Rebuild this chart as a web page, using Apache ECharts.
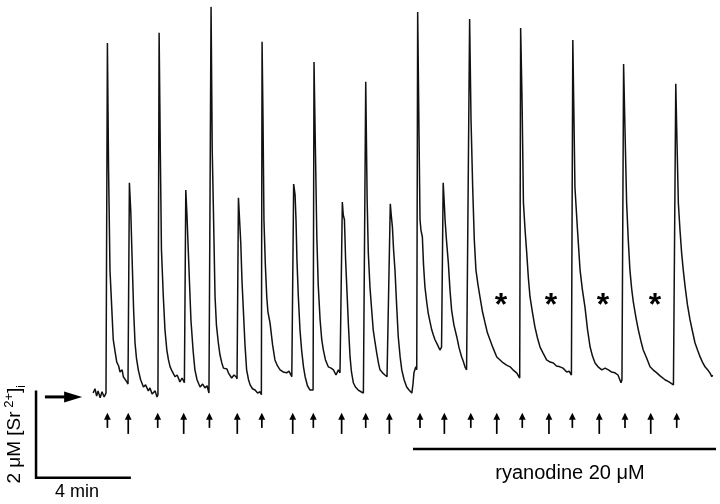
<!DOCTYPE html>
<html>
<head>
<meta charset="utf-8">
<script src="https://cdn.jsdelivr.net/npm/echarts@6/dist/echarts.min.js"></script>
<style>
  html, body { margin: 0; background: #fff; }
  #chart { width: 720px; height: 504px; }
</style>
</head>
<body>
<div id="chart"></div>
<script>
// [time (min), [Sr2+]i (µM above resting level)]
const controlTrace = [
  [2.44,0.09],[2.52,0.19],[2.59,0.02],[2.65,0.14],[2.74,-0.02],[2.82,0.12],[2.91,0],[2.99,0.09],[3.02,0.05],
  [3.05,8.23],[3.10,5.28],[3.16,2.95],[3.23,2.14],[3.30,1.33],[3.38,1.05],[3.45,0.81],[3.53,0.72],[3.59,0.58],[3.68,0.63],[3.73,0.47],[3.80,0.51],[3.88,0.35],[3.93,0.30],
  [3.96,0.30],[3.99,4.98],[4.05,4.30],[4.12,2.95],[4.17,2.02],[4.23,1.26],[4.29,0.91],[4.37,0.63],[4.47,0.40],[4.59,0.23],[4.68,0.28],[4.80,0.14],[4.87,0.21],[4.96,0.07],[5.09,0.14],[5.17,0],[5.21,0.05],
  [5.26,8.47],[5.31,5.74],[5.36,3.42],[5.44,2.33],[5.51,1.56],[5.59,1.09],[5.66,0.86],[5.73,0.70],[5.83,0.58],[5.94,0.47],[6.03,0.51],[6.15,0.35],[6.24,0.44],[6.30,0.40],[6.34,0.33],
  [6.40,4.81],[6.45,4.23],[6.51,3.35],[6.57,2.49],[6.62,1.79],[6.71,1.09],[6.79,0.63],[6.88,0.40],[7.01,0.23],[7.12,0.30],[7.22,0.21],[7.31,0.26],[7.39,0.09],[7.46,0.12],
  [7.48,9.07],[7.53,5.74],[7.58,4.35],[7.65,2.33],[7.71,1.67],[7.79,1.26],[7.86,0.98],[7.94,0.79],[8.01,0.67],[8.08,0.63],[8.16,0.65],[8.22,0.56],[8.29,0.58],[8.36,0.44],[8.46,0.51],[8.55,0.47],[8.59,0.42],
  [8.65,4.63],[8.75,3.58],[8.80,2.72],[8.86,2.02],[8.93,1.21],[9.00,0.63],[9.08,0.40],[9.15,0.28],[9.25,0.19],[9.36,0.16],[9.47,0.09],[9.57,0.12],[9.63,0.05],
  [9.66,8.26],[9.70,6.44],[9.74,4.12],[9.80,3.07],[9.86,2.33],[9.91,1.98],[10.00,1.72],[10.11,1.21],[10.21,0.86],[10.32,0.72],[10.43,0.63],[10.56,0.58],[10.71,0.56],[10.81,0.60],[10.93,0.47],[10.96,0.44],
  [11.01,4.95],[11.07,4.70],[11.11,4.12],[11.15,3.19],[11.21,2.33],[11.28,1.56],[11.35,1.09],[11.43,0.70],[11.50,0.47],[11.60,0.26],[11.71,0.16],[11.78,0.12],[11.84,0.16],
  [11.88,7.79],[11.94,5.74],[12.00,3.72],[12.06,2.60],[12.14,1.79],[12.21,1.33],[12.28,1.09],[12.37,0.86],[12.49,0.70],[12.61,0.67],[12.71,0.63],[12.82,0.51],[12.92,0.63],[12.99,0.56],[13.05,0.58],
  [13.09,4.53],[13.13,4.23],[13.18,4.12],[13.23,3.19],[13.28,2.56],[13.35,1.67],[13.42,0.93],[13.48,0.58],[13.56,0.33],[13.65,0.23],[13.77,0.16],[13.89,0.12],[13.99,0.09],[14.04,0.07],
  [14.09,7.33],[14.15,4.58],[14.20,3.35],[14.27,2.56],[14.35,1.98],[14.41,1.56],[14.49,1.26],[14.56,1.02],[14.64,0.77],[14.70,0.63],[14.81,0.56],[14.91,0.51],[15.00,0.47],[15.07,0.44],
  [15.14,4.49],[15.18,4.23],[15.23,3.95],[15.28,3.42],[15.34,2.95],[15.41,2.14],[15.48,1.40],[15.56,0.93],[15.63,0.63],[15.73,0.40],[15.84,0.23],[15.94,0.16],[16.06,0.09],[16.11,0.30],[16.15,0.56],[16.23,0.70],[16.27,0.63]
];

const ryanodineTrace = [
  [16.31,8.95],[16.36,6.44],[16.41,4.12],[16.45,3.88],[16.51,3.72],[16.56,3.07],[16.62,2.56],[16.70,2.19],[16.76,1.95],[16.84,1.74],[16.91,1.56],[16.98,1.44],[17.05,1.33],[17.16,1.21],[17.26,1.09],[17.33,1.16],
  [17.40,4.98],[17.44,4.58],[17.48,4.12],[17.54,3.65],[17.62,3.12],[17.69,2.49],[17.76,2.02],[17.86,1.67],[17.98,1.40],[18.08,1.14],[18.19,0.93],[18.27,0.81],[18.33,0.70],[18.40,0.63],[18.46,0.67],
  [18.53,8.79],[18.59,6.44],[18.66,4.88],[18.73,3.65],[18.80,2.95],[18.89,2.60],[18.97,2.33],[19.08,1.98],[19.19,1.72],[19.29,1.49],[19.40,1.33],[19.53,1.14],[19.69,0.93],[19.83,0.86],[19.97,0.79],[20.11,0.74],[20.26,0.70],[20.38,0.63],[20.54,0.56],[20.60,0.58],[20.67,0.44],
  [20.71,8.58],[20.77,6.91],[20.83,4.51],[20.90,3.88],[20.97,3.35],[21.04,2.77],[21.11,2.33],[21.22,1.95],[21.32,1.63],[21.43,1.37],[21.54,1.16],[21.67,1.02],[21.82,0.86],[21.97,0.81],[22.11,0.79],[22.24,0.72],[22.39,0.70],[22.52,0.67],[22.68,0.58],[22.78,0.60],[22.88,0.51],
  [22.94,8.30],[22.99,6.44],[23.03,4.88],[23.14,3.88],[23.25,2.95],[23.35,2.49],[23.46,2.09],[23.57,1.56],[23.68,1.16],[23.78,0.95],[23.89,0.79],[24.02,0.70],[24.18,0.63],[24.32,0.67],[24.46,0.63],[24.59,0.58],[24.74,0.56],[24.87,0.51],[25.00,0.33],[25.04,0.40],
  [25.11,7.74],[25.17,6.21],[25.24,4.51],[25.31,3.65],[25.38,2.95],[25.46,2.49],[25.53,2.19],[25.64,1.84],[25.74,1.56],[25.85,1.30],[25.95,1.09],[26.09,0.91],[26.24,0.70],[26.37,0.63],[26.53,0.56],[26.67,0.49],[26.88,0.40],[27.05,0.35],[27.24,0.28],[27.27,0.26],
  [27.34,7.28],[27.39,5.98],[27.45,4.51],[27.52,3.88],[27.59,3.35],[27.66,2.95],[27.74,2.56],[27.84,2.14],[27.95,1.79],[28.06,1.51],[28.16,1.26],[28.27,1.09],[28.38,0.93],[28.48,0.81],[28.59,0.70],[28.70,0.63],[28.80,0.56],[28.88,0.47],[28.91,0.51]
];

// stimulus times (min): short arrows and long arrows alternate
const shortArrowTimes = [3.05, 5.20, 7.41, 9.65, 11.85, 14.09, 16.41, 18.58, 20.78, 22.92, 25.17, 27.38];
const longArrowTimes = [3.94, 6.31, 8.60, 10.97, 13.06, 15.10, 17.45, 19.69, 21.92, 24.07, 26.27];
// missing responses in ryanodine, marked with *
const asteriskTimes = [19.87, 22.01, 24.23, 26.45];
const ryanodineSpan = [16.11, 29.06];

const FONT = '"Liberation Sans", Arial, Helvetica, sans-serif';

// layout of annotations, in axis units
const arrowTip = -0.37, shortTail = -0.72, longTail = -0.86;
const asteriskLevel = 2.12;
const drugBarLevel = -1.21;
const scaleCorner = [0, -1.88];
const scaleBar = { minutes: 4, micromolar: 2 };
const baselineArrow = [0.38, 1.97, 0];

const labels = [
  { pos: [1.75, -2.21], text: '4 min', size: 18 },
  { pos: [22.82, -1.79], text: 'ryanodine 20 μM', size: 20 },
  { pos: [-0.90, -0.87], text: '2 μM [Sr{sup| 2+}]{sub|i}', size: 19, rotate: true }
];

function stimArrow(params, api) {
  const tail = api.coord([api.value(0), api.value(1)]);
  const tip = api.coord([api.value(0), api.value(2)]);
  const head = 7, half = 3.4;
  return {
    type: 'group',
    children: [
      { type: 'line', shape: { x1: tail[0], y1: tail[1], x2: tip[0], y2: tip[1] + head - 1 }, style: { stroke: '#000', lineWidth: 1.7 } },
      { type: 'polygon', shape: { points: [[tip[0], tip[1]], [tip[0] - half, tip[1] + head], [tip[0] + half, tip[1] + head]] }, style: { fill: '#000' } }
    ]
  };
}

function restArrow(params, api) {
  const a = api.coord([api.value(0), api.value(2)]);
  const b = api.coord([api.value(1), api.value(2)]);
  return {
    type: 'group',
    children: [
      { type: 'line', shape: { x1: a[0], y1: a[1], x2: b[0] - 14, y2: b[1] }, style: { stroke: '#000', lineWidth: 3 } },
      { type: 'polygon', shape: { points: [[b[0], b[1]], [b[0] - 18, b[1] - 5.5], [b[0] - 18, b[1] + 5.5]] }, style: { fill: '#000' } }
    ]
  };
}

function textLabel(params, api) {
  const lab = labels[params.dataIndex];
  const p = api.coord(lab.pos);
  return {
    type: 'text',
    x: p[0],
    y: p[1],
    rotation: lab.rotate ? Math.PI / 2 : 0,
    style: {
      text: lab.text,
      font: lab.size + 'px ' + FONT,
      fill: '#000',
      align: 'center',
      verticalAlign: 'middle',
      lineHeight: 26,
      rich: {
        sup: { fontSize: 13, fontFamily: FONT, verticalAlign: 'top', lineHeight: 26, padding: [1, 0, 0, 0] },
        sub: { fontSize: 12, fontFamily: FONT, verticalAlign: 'bottom', lineHeight: 26 }
      }
    }
  };
}

function asterisk(params, api) {
  const p = api.coord([api.value(0), api.value(1)]);
  return {
    type: 'text',
    x: p[0],
    y: p[1],
    style: { text: '*', font: 'bold 32px ' + FONT, fill: '#000', align: 'center', verticalAlign: 'middle' }
  };
}

const chart = echarts.init(document.getElementById('chart'), null, { renderer: 'canvas' });

chart.setOption({
  animation: false,
  backgroundColor: '#fff',
  grid: { left: 0, right: 0, top: 0, bottom: 0 },
  xAxis: { type: 'value', min: -1.54, max: 29.23, show: false },
  yAxis: { type: 'value', min: -2.49, max: 9.23, show: false },
  series: [
    {
      type: 'line',
      data: controlTrace.concat(ryanodineTrace),
      showSymbol: false,
      clip: false,
      lineStyle: { color: '#111', width: 1.5 }
    },
    {
      type: 'custom',
      renderItem: stimArrow,
      clip: false,
      data: shortArrowTimes.map((t) => [t, shortTail, arrowTip])
    },
    {
      type: 'custom',
      renderItem: stimArrow,
      clip: false,
      data: longArrowTimes.map((t) => [t, longTail, arrowTip])
    },
    {
      type: 'custom',
      renderItem: asterisk,
      clip: false,
      data: asteriskTimes.map((t) => [t, asteriskLevel])
    },
    {
      type: 'custom',
      renderItem: restArrow,
      clip: false,
      data: [baselineArrow]
    },
    {
      // drug application bar
      type: 'line',
      data: ryanodineSpan.map((t) => [t, drugBarLevel]),
      showSymbol: false,
      lineStyle: { color: '#000', width: 2.5 }
    },
    {
      // scale bar: 2 µM by 4 min
      type: 'line',
      data: [
        [scaleCorner[0], scaleCorner[1] + scaleBar.micromolar],
        scaleCorner,
        [scaleCorner[0] + scaleBar.minutes, scaleCorner[1]]
      ],
      showSymbol: false,
      lineStyle: { color: '#000', width: 2.5, cap: 'square', join: 'miter' }
    },
    {
      type: 'custom',
      renderItem: textLabel,
      clip: false,
      data: labels.map((l) => l.pos)
    }
  ]
});
</script>
</body>
</html>
